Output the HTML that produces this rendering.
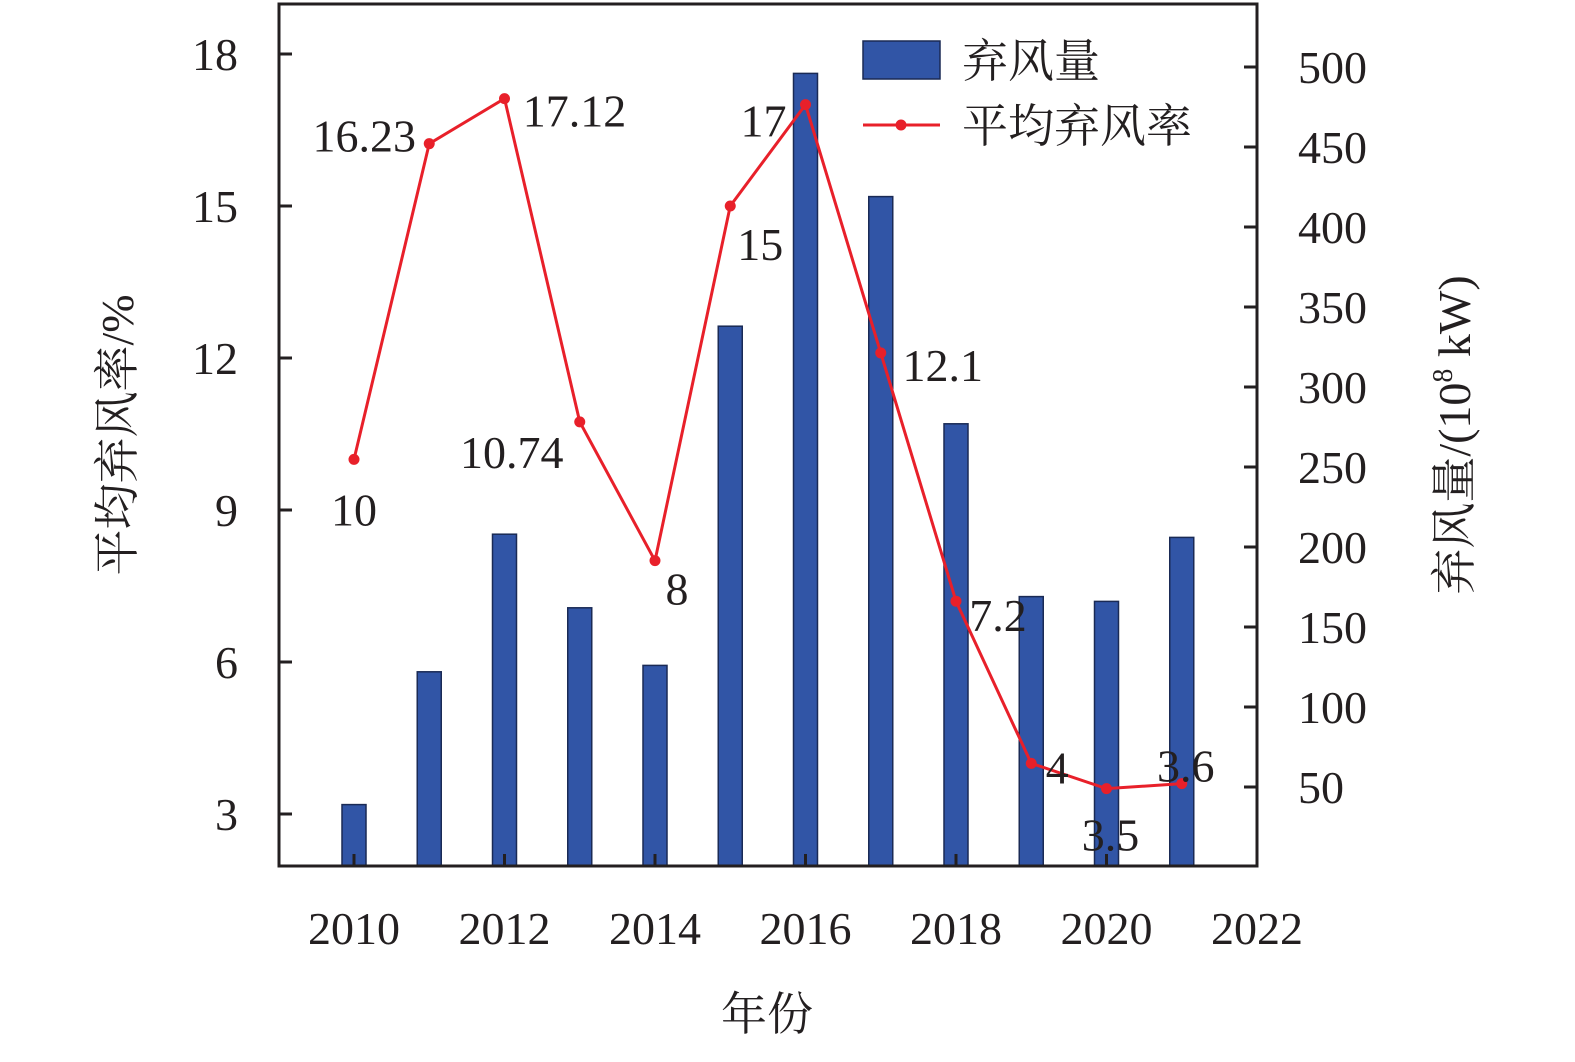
<!DOCTYPE html>
<html><head><meta charset="utf-8"><style>
body{margin:0;background:#fff;}
svg text{font-family:"Liberation Serif","Noto Serif CJK SC",serif;fill:#231f20;}
</style></head><body>
<svg width="1575" height="1057" viewBox="0 0 1575 1057" xmlns="http://www.w3.org/2000/svg">
<g id="bars"></g>
<g id="line"></g>
<g id="axes"></g>
<g id="labels"></g>
<g>
<rect x="863" y="41" width="77" height="38" fill="#3155a6" stroke="#1a2a55" stroke-width="1.5"/>
<text x="962" y="77" font-size="46">弃风量</text>
<line x1="863" y1="125" x2="940" y2="125" stroke="#e8202a" stroke-width="3"/>
<circle cx="901" cy="125" r="5.5" fill="#e8202a"/>
<text x="962" y="142" font-size="46">平均弃风率</text>
</g>
<text x="767" y="1030" font-size="46" text-anchor="middle">年份</text>
<text transform="translate(133,435) rotate(-90)" font-size="46" text-anchor="middle">平均弃风率/%</text>
<text transform="translate(1470,435) rotate(-90)" font-size="46" text-anchor="middle">弃风量/(10<tspan font-size="28" dy="-18">8</tspan><tspan dy="18"> kW)</tspan></text>
</svg>
<script>
const years=[2010,2011,2012,2013,2014,2015,2016,2017,2018,2019,2020,2021];
const curtail=[39,122,208,162,126,338,496,419,277,169,166,206];
const rate=[10,16.23,17.12,10.74,8,15,17,12.1,7.2,4,3.5,3.6];
const rateLabels=["10","16.23","17.12","10.74","8","15","17","12.1","7.2","4","3.5","3.6"];
const xTicks=[2010,2012,2014,2016,2018,2020,2022];
const leftTicks=[3,6,9,12,15,18];
const rightTicks=[50,100,150,200,250,300,350,400,450,500];
const labelOffsets=[[0,50],[-65,-8],[70,12],[-68,30],[22,28],[30,38],[-42,16],[62,12],[42,14],[26,4],[4,46],[4,-18]];
const L=279,R=1257,T=4,B=866;
const xs=y=>354+(y-2010)*75.25;
const yl=v=>966-v*50.667;
const yr=v=>867-v*1.6;
const NS="http://www.w3.org/2000/svg";
function mk(t,a,p){const e=document.createElementNS(NS,t);for(const k in a)e.setAttribute(k,a[k]);p.appendChild(e);return e;}
const gb=document.getElementById('bars');
years.forEach((y,i)=>{const r=mk('rect',{x:xs(y)-12,y:yr(curtail[i]),width:24,height:B-yr(curtail[i]),fill:'#3155a6',stroke:'#1a2a55','stroke-width':1.5},gb);

});
const gl=document.getElementById('line');
const pl=mk('polyline',{points:years.map((y,i)=>xs(y)+','+yl(rate[i])).join(' '),fill:'none',stroke:'#e8202a','stroke-width':3},gl);


years.forEach((y,i)=>{const c=mk('circle',{cx:xs(y),cy:yl(rate[i]),r:5.5,fill:'#e8202a'},gl);

});
const ga=document.getElementById('axes');
const fr=mk('rect',{x:L,y:T,width:R-L,height:B-T,fill:'none',stroke:'#231f20','stroke-width':3},ga);


xTicks.forEach(t=>{mk('line',{x1:xs(t),x2:xs(t),y1:B,y2:B-12,stroke:'#231f20','stroke-width':3},ga);
const tx=mk('text',{x:xs(t),y:B+78,'font-size':46,'text-anchor':'middle'},ga);tx.textContent=t;

});
leftTicks.forEach(t=>{mk('line',{x1:L,x2:L+13,y1:yl(t),y2:yl(t),stroke:'#231f20','stroke-width':3},ga);
const tx=mk('text',{x:238,y:yl(t)+16,'font-size':46,'text-anchor':'end'},ga);tx.textContent=t;

});
rightTicks.forEach(t=>{mk('line',{x1:R,x2:R-13,y1:yr(t),y2:yr(t),stroke:'#231f20','stroke-width':3},ga);
const tx=mk('text',{x:1298,y:yr(t)+16,'font-size':46},ga);tx.textContent=t;

});
const glb=document.getElementById('labels');
years.forEach((y,i)=>{const tx=mk('text',{x:xs(y)+labelOffsets[i][0],y:yl(rate[i])+labelOffsets[i][1]+16,'font-size':46,'text-anchor':'middle'},glb);tx.textContent=rateLabels[i];

});
</script>
</body></html>
